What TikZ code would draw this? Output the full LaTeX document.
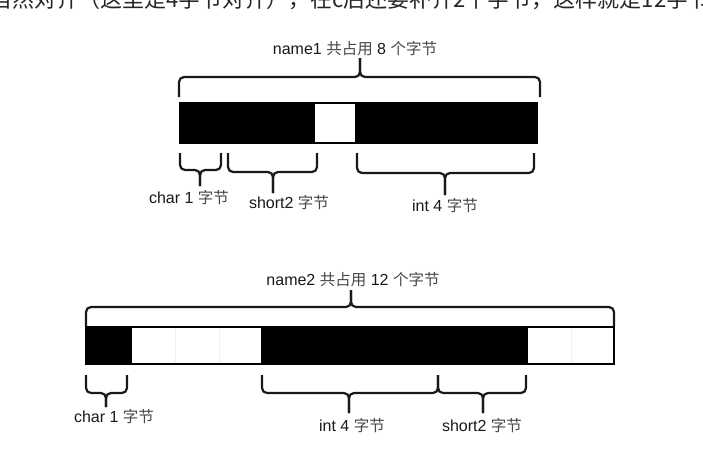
\documentclass[tikz,border=0pt]{standalone}
\usepackage{fontspec}
\setmainfont{Liberation Sans}
\newfontfamily\cjk{Noto Sans CJK SC}
\newcommand\zh[1]{{\cjk\fontsize{15.5}{17}\selectfont\color{black!72}#1}}
\newcommand\mybrace[6]{% x1 x2 xm yEnd yH yTip
  \draw[bracestyle] (#1,#4) -- (#1,#5) -- (#3,#5) -- (#3,#6);
  \draw[bracestyle] (#2,#4) -- (#2,#5) -- (#3,#5) -- (#3,#6);}
\tikzset{
  bracestyle/.style={line width=2.2pt, rounded corners=5pt, line join=round, black!90},
  lbl/.style={font=\fontsize{16}{18}\selectfont, inner sep=0pt, text=black!90},
  barline/.style={line width=1.5pt, black},
  sepline/.style={line width=0.8pt, black!6},
}
\begin{document}
\begin{tikzpicture}[x=1pt,y=-1pt]
\useasboundingbox[fill=white] (0,0) rectangle (703,452);

% cut-off text line at the top
\node[anchor=base west, inner sep=0pt, font=\cjk\fontsize{22}{24}\selectfont, text=black!85] (cut) at (-10,8)
  {自然对齐（这里是4字节对齐），在c后还要补齐2个字节，这样就是12字节};

% ---------- name1 ----------
\node[lbl, anchor=base] (t1) at (355,54) {name1 \zh{共占用} 8 \zh{个字节}};
\mybrace{179}{540}{360}{97}{77}{58}
\fill[black] (180,103) rectangle (314,143);
\fill[black] (356,103) rectangle (537,143);
\draw[barline] (180,103) rectangle (537,143);
\draw[barline] (314,103) -- (314,143) (356,103) -- (356,143);

\mybrace{180}{221}{200}{153}{170}{186}
\mybrace{228}{317}{273}{153}{172}{193}
\mybrace{357}{534}{445}{153}{173}{195}
\node[lbl, anchor=base] (c1) at (189,203) {char 1 \zh{字节}};
\node[lbl, anchor=base] (s1) at (289,208) {short2 \zh{字节}};
\node[lbl, anchor=base] (i1) at (445,211) {int 4 \zh{字节}};

% ---------- name2 ----------
\node[lbl, anchor=base] (t2) at (353,285) {name2 \zh{共占用} 12 \zh{个字节}};
\mybrace{86}{614}{351}{326}{307}{290}
\fill[black] (86,327) rectangle (131,364);
\fill[black] (262,327) rectangle (527,364);
\draw[sepline] (175,328) -- (175,363) (219,328) -- (219,363) (571,328) -- (571,363);
\draw[barline] (86,327) rectangle (614,364);
\draw[barline] (131,327) -- (131,364) (262,327) -- (262,364) (527,327) -- (527,364);

\mybrace{86}{127}{106}{375}{393}{407}
\mybrace{262}{438}{349}{375}{393}{413}
\mybrace{438}{526}{483}{375}{393}{413}
\node[lbl, anchor=base] (c2) at (114,422) {char 1 \zh{字节}};
\node[lbl, anchor=base] (i2) at (352,431) {int 4 \zh{字节}};
\node[lbl, anchor=base] (s2) at (482,431) {short2 \zh{字节}};
\end{tikzpicture}
\end{document}
